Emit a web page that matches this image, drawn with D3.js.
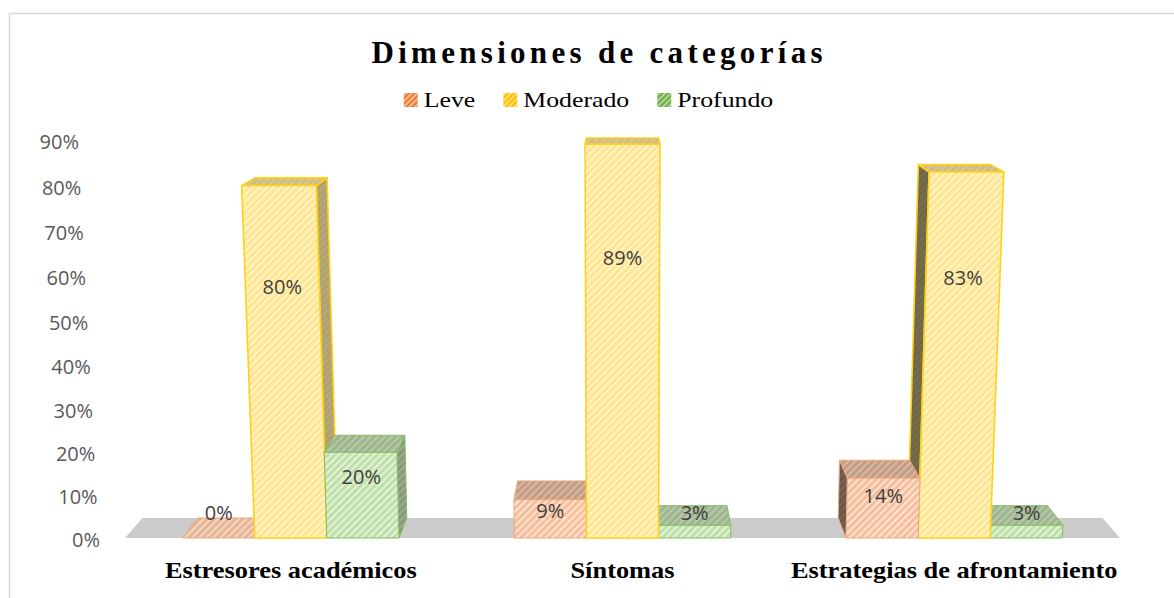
<!DOCTYPE html>
<html>
<head>
<meta charset="utf-8">
<script src="https://cdn.jsdelivr.net/npm/d3@7"></script>
<style>
  html, body { margin: 0; padding: 0; background: #ffffff; }
  svg { display: block; }
</style>
</head>
<body>
<svg id="chart" width="1174" height="598"></svg>
<script>
// ---- data ----
const categories = ["Estresores académicos", "Síntomas", "Estrategias de afrontamiento"];
const seriesNames = ["Leve", "Moderado", "Profundo"];
const leve = [0.00, 0.09, 0.14];
const moderado = [0.80, 0.89, 0.83];
const profundo = [0.20, 0.03, 0.03];
const yTicks = [0, 0.1, 0.2, 0.3, 0.4, 0.5, 0.6, 0.7, 0.8, 0.9];
const titleText = "Dimensiones de categorías";

const seriesValues = { "Leve": leve, "Moderado": moderado, "Profundo": profundo };

// ---- colours ----
const palette = {
  "Leve":     { base: "#F6BE9A", stripe: "#FCE3D2", edge: "#F0A77A", legendBase: "#ED7D31", legendStripe: "#F8CBAD" },
  "Moderado": { base: "#FFE590", stripe: "#FFF3C8", edge: "#FFD21A", legendBase: "#FFC000", legendStripe: "#FFE699" },
  "Profundo": { base: "#BFE0A8", stripe: "#E3F2D8", edge: "#86BC62", legendBase: "#70AD47", legendStripe: "#C5E0B4" }
};

const svg = d3.select("#chart");
const W = 1174, H = 598;
const serif = "'Liberation Serif', 'Times New Roman', serif";
const sans = "'Open Sans', 'Liberation Sans', sans-serif";

// ---- hatch patterns ----
const defs = svg.append("defs");
function hatch(id, base, stripe, size, sw) {
  const p = defs.append("pattern")
    .attr("id", id)
    .attr("patternUnits", "userSpaceOnUse")
    .attr("width", size).attr("height", size)
    .attr("patternTransform", "rotate(45)");
  p.append("rect").attr("width", size).attr("height", size).attr("fill", base);
  p.append("rect").attr("width", sw).attr("height", size).attr("fill", stripe);
}
seriesNames.forEach(s => {
  hatch("face-" + s, palette[s].base, palette[s].stripe, 5, 2);
  hatch("leg-" + s, palette[s].legendBase, palette[s].legendStripe, 4, 1.5);
});

// ---- frame ----
svg.append("rect")
  .attr("x", 9.5).attr("y", 13.5)
  .attr("width", W + 20).attr("height", H + 20)
  .attr("fill", "none").attr("stroke", "#D9D9D9").attr("stroke-width", 1.5);

// ---- scales ----
const floorLeft = 125, floorRight = 1120;
const x0 = d3.scaleBand().domain(categories).range([floorLeft, floorRight]).paddingInner(0).paddingOuter(0);
const x1 = d3.scaleBand().domain(seriesNames).range([0, x0.bandwidth()]).paddingInner(0).paddingOuter(0.8);
const hScale = d3.scaleLinear().domain([0, 1]).range([0, 424.4]);

// ---- perspective projection ----
// x: position on the front edge of the floor, h: height in px, z: depth 0..1
const base0 = 538;          // screen y of the floor front edge
const cx = 622;             // horizontal centre of convergence
const vp = [622, -34];      // vanishing point of receding lines
const kDepth = 0.035;       // shrink over the full depth
const aVert = 0.0001052;    // widening with height
const eVert = 0.000112;     // vertical foreshortening
function project(x, h, z) {
  const yF = base0 - h * (1 + eVert * h);
  const xF = cx + (x - cx) * (1 + aVert * h);
  const f = 1 - kDepth * z;
  return [vp[0] + (xF - vp[0]) * f, vp[1] + (yF - vp[1]) * f];
}
const poly = pts => pts.map(p => p.join(",")).join(" ");

// ---- floor ----
svg.append("polygon")
  .attr("points", poly([
    project(floorLeft, 0, 0), project(floorRight, 0, 0),
    project(floorRight, 0, 1), project(floorLeft, 0, 1)
  ]))
  .attr("fill", "#CBCBCB");

// ---- bars ----
const bars = [];
categories.forEach((c, ci) => {
  seriesNames.forEach(s => {
    const xl = x0(c) + x1(s);
    const xr = xl + x1.bandwidth();
    bars.push({ cat: c, series: s, value: seriesValues[s][ci], xl, xr });
  });
});
// far-from-centre bars first so inner bars overlap their side faces
bars.sort((a, b) => Math.abs((b.xl + b.xr) / 2 - cx) - Math.abs((a.xl + a.xr) / 2 - cx));

const gBars = svg.append("g");
bars.forEach(b => {
  const h = hScale(b.value);
  const g = gBars.append("g");
  const fill = "url(#face-" + b.series + ")";
  const edge = palette[b.series].edge;
  const faces = [];
  if (b.xr < cx) {
    faces.push({ pts: [project(b.xr, 0, 0), project(b.xr, 0, 1), project(b.xr, h, 1), project(b.xr, h, 0)], shade: 0.30 });
  }
  if (b.xl > cx) {
    faces.push({ pts: [project(b.xl, 0, 0), project(b.xl, 0, 1), project(b.xl, h, 1), project(b.xl, h, 0)], shade: 0.55 });
  }
  faces.push({ pts: [project(b.xl, h, 0), project(b.xr, h, 0), project(b.xr, h, 1), project(b.xl, h, 1)], shade: h > 0 ? 0.18 : 0.05 });
  if (h > 0) {
    faces.push({ pts: [project(b.xl, 0, 0), project(b.xr, 0, 0), project(b.xr, h, 0), project(b.xl, h, 0)], shade: 0 });
  }
  faces.forEach(f => {
    g.append("polygon").attr("points", poly(f.pts)).attr("fill", fill);
    if (f.shade > 0) {
      g.append("polygon").attr("points", poly(f.pts)).attr("fill", "#000").attr("fill-opacity", f.shade);
    }
    g.append("polygon").attr("points", poly(f.pts))
      .attr("fill", "none").attr("stroke", edge)
      .attr("stroke-width", b.series === "Moderado" ? 1.6 : 1)
      .attr("stroke-linejoin", "round");
  });
});

// ---- data labels ----
bars.forEach(b => {
  const hLab = hScale(b.value * 0.72);
  const pt = project((b.xl + b.xr) / 2, hLab, 0);
  const y = Math.min(pt[1], 512);
  svg.append("text")
    .attr("x", pt[0]).attr("y", y)
    .attr("text-anchor", "middle")
    .attr("dominant-baseline", "central")
    .attr("font-family", sans)
    .attr("font-size", 20)
    .attr("fill", "#404040")
    .text(d3.format(".0%")(b.value));
});

// ---- value axis labels ----
const axisX = 100;
yTicks.forEach(t => {
  const p = project(axisX, hScale(t), 0);
  svg.append("text")
    .attr("x", p[0]).attr("y", p[1] + 1.5)
    .attr("text-anchor", "end")
    .attr("dominant-baseline", "central")
    .attr("font-family", sans)
    .attr("font-size", 20)
    .attr("fill", "#595959")
    .text(d3.format(".0%")(t));
});

// ---- category labels (serif, slightly widened) ----
categories.forEach(c => {
  const cxText = x0(c) + x0.bandwidth() / 2;
  svg.append("text")
    .attr("transform", `translate(${cxText},578) scale(1.1,1)`)
    .attr("text-anchor", "middle")
    .attr("font-family", serif)
    .attr("font-weight", "bold")
    .attr("font-size", 24)
    .attr("fill", "#000")
    .text(c);
});

// ---- title ----
const ls = 4.3;
svg.append("text")
  .attr("x", 597 + ls / 2).attr("y", 63)
  .attr("text-anchor", "middle")
  .attr("font-family", serif)
  .attr("font-weight", "bold")
  .attr("font-size", 31)
  .attr("letter-spacing", ls)
  .attr("fill", "#000")
  .text(titleText);

// ---- legend ----
const legend = svg.append("g");
const swatch = 14, swGap = 6, itemGap = 28, legendStretch = 1.2;
let cursor = 0;
const items = seriesNames.map(s => {
  const g = legend.append("g");
  g.append("rect").attr("x", 0).attr("y", -swatch / 2)
    .attr("width", swatch).attr("height", swatch)
    .attr("fill", "url(#leg-" + s + ")");
  const t = g.append("text")
    .attr("transform", `translate(${swatch + swGap},0) scale(${legendStretch},1)`)
    .attr("dominant-baseline", "central")
    .attr("font-family", serif)
    .attr("font-size", 21.5)
    .attr("fill", "#000")
    .text(s);
  const w = swatch + swGap + t.node().getComputedTextLength() * legendStretch;
  const item = { g, x: cursor, w };
  cursor += w + itemGap;
  return item;
});
const total = cursor - itemGap;
const legendLeft = 588.5 - total / 2;
items.forEach(it => it.g.attr("transform", `translate(${legendLeft + it.x},100)`));
</script>
</body>
</html>
